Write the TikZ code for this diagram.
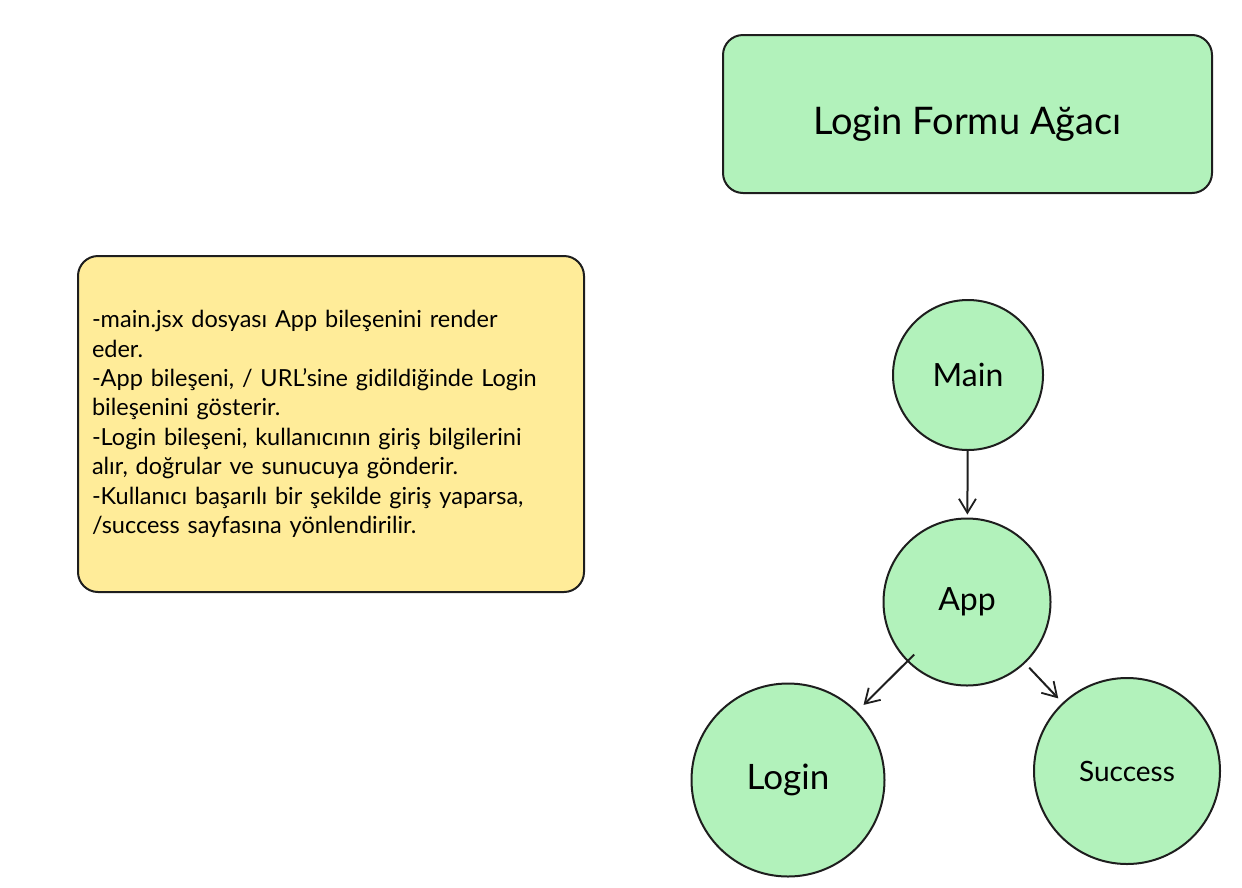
\documentclass[tikz,border=0pt]{standalone}
\usepackage{fontspec}
\setmainfont{Lato}
\usetikzlibrary{arrows.meta,positioning}
\definecolor{nodegreen}{RGB}{178,242,187}
\definecolor{noteyellow}{RGB}{255,236,153}
\definecolor{inkblack}{RGB}{30,30,30}

\begin{document}
\begin{tikzpicture}[x=1pt, y=-1pt,
    treenode/.style={circle, draw=inkblack, line width=2pt, fill=nodegreen, inner sep=0pt},
    treearrow/.style={-{Straight Barb[length=14pt,width=17pt,line width=1.8pt]}, draw=inkblack, line width=2pt}]
    \useasboundingbox (0,0) rectangle (1242,887);
    % title box
    \node[rectangle, draw=inkblack, line width=2pt, rounded corners=20pt, fill=nodegreen, minimum width=489pt, minimum height=158pt, text height=48pt, font=\fontsize{38}{44}\selectfont] (title) at (967.5,114) {Login Formu Ağacı};
    % notes box
    \node[rectangle, draw=inkblack, line width=2pt, rounded corners=20pt, fill=noteyellow, minimum width=506pt, minimum height=336pt, inner xsep=14pt, text width=478pt, align=left, font=\fontsize{23.5}{29.4}\selectfont] (notes) at (331,424) {
        -main.jsx dosyası App bileşenini render\\
        eder.\\
        -App bileşeni, / URL'sine gidildiğinde Login\\
        bileşenini gösterir.\\
        -Login bileşeni, kullanıcının giriş bilgilerini\\
        alır, doğrular ve sunucuya gönderir.\\
        -Kullanıcı başarılı bir şekilde giriş yaparsa,\\
        /success sayfasına yönlendirilir.
    };
    % tree
    \node[treenode, minimum size=150pt, font=\fontsize{32}{38}\selectfont] (main) at (968,375) {Main};
    \node[treenode, minimum size=167pt, font=\fontsize{32}{38}\selectfont] (app) at (967,602) {App};
    \node[treenode, minimum size=193pt, font=\fontsize{35}{42}\selectfont] (login) at (788,780) {Login};
    \node[treenode, minimum size=186pt, font=\fontsize{28}{34}\selectfont] (success) at (1127,771) {Success};
    \draw[treearrow, shorten <=-2pt, shorten >=3pt] (main) -- (app);
    \draw[treearrow, shorten <=-10pt, shorten >=9pt] (app) -- (login);
    \draw[treearrow, shorten <=6pt, shorten >=6pt] (app) -- (success);
\end{tikzpicture}
\end{document}
